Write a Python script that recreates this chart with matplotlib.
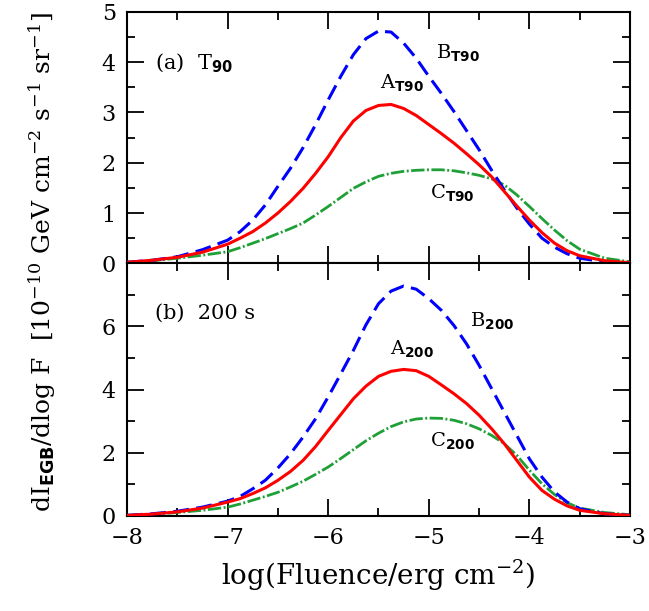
import numpy as np
import matplotlib
matplotlib.use('Agg')
import matplotlib.pyplot as plt
from matplotlib.ticker import MultipleLocator

plt.rcParams['font.family'] = ['DejaVu Serif']
plt.rcParams['mathtext.fontset'] = 'custom'
plt.rcParams['mathtext.rm'] = 'DejaVu Serif'
plt.rcParams['mathtext.it'] = 'DejaVu Serif:italic'
plt.rcParams['mathtext.bf'] = 'DejaVu Sans:bold'

# log fluence grid
logF = [-8.0, -7.75, -7.5, -7.25, -7.0, -6.875, -6.75, -6.625, -6.5, -6.375,
        -6.25, -6.125, -6.0, -5.875, -5.75, -5.625, -5.5, -5.375, -5.25, -5.125,
        -5.0, -4.875, -4.75, -4.625, -4.5, -4.375, -4.25, -4.125, -4.0, -3.875,
        -3.75, -3.625, -3.5, -3.25, -3.0]

# (a) T90
A_T90 = [0.02, 0.06, 0.12, 0.22, 0.38, 0.50, 0.63, 0.80, 1.00, 1.23,
         1.49, 1.79, 2.12, 2.50, 2.83, 3.04, 3.14, 3.16, 3.08, 2.94,
         2.76, 2.58, 2.39, 2.18, 1.96, 1.72, 1.43, 1.14, 0.86, 0.61,
         0.40, 0.25, 0.15, 0.05, 0.01]
B_T90 = [0.02, 0.06, 0.13, 0.27, 0.46, 0.63, 0.86, 1.16, 1.53, 1.89,
         2.30, 2.76, 3.25, 3.72, 4.15, 4.47, 4.62, 4.60, 4.38, 4.08,
         3.72, 3.38, 3.02, 2.64, 2.26, 1.85, 1.46, 1.10, 0.78, 0.50,
         0.32, 0.19, 0.10, 0.03, 0.0]
C_T90 = [0.02, 0.05, 0.10, 0.16, 0.23, 0.31, 0.40, 0.49, 0.59, 0.69,
         0.80, 0.96, 1.13, 1.31, 1.49, 1.62, 1.73, 1.79, 1.83, 1.85,
         1.86, 1.86, 1.84, 1.80, 1.75, 1.68, 1.56, 1.36, 1.13, 0.89,
         0.66, 0.45, 0.28, 0.10, 0.03]

# (b) 200 s
A_200 = [0.02, 0.06, 0.13, 0.25, 0.44, 0.55, 0.71, 0.89, 1.13, 1.41,
         1.76, 2.20, 2.71, 3.21, 3.71, 4.11, 4.42, 4.58, 4.64, 4.60,
         4.42, 4.15, 3.87, 3.56, 3.19, 2.76, 2.29, 1.76, 1.23, 0.81,
         0.53, 0.32, 0.18, 0.07, 0.02]
B_200 = [0.02, 0.07, 0.15, 0.28, 0.47, 0.62, 0.86, 1.13, 1.52, 1.97,
         2.50, 3.08, 3.77, 4.50, 5.24, 6.05, 6.72, 7.12, 7.28, 7.18,
         6.88, 6.51, 6.03, 5.45, 4.77, 4.03, 3.29, 2.55, 1.81, 1.23,
         0.76, 0.44, 0.23, 0.07, 0.02]
C_200 = [0.02, 0.05, 0.11, 0.18, 0.28, 0.38, 0.50, 0.62, 0.75, 0.92,
         1.10, 1.32, 1.55, 1.82, 2.10, 2.38, 2.62, 2.83, 2.98, 3.07,
         3.10, 3.09, 3.03, 2.92, 2.76, 2.55, 2.29, 1.92, 1.45, 1.02,
         0.68, 0.42, 0.25, 0.11, 0.04]

red = '#ff0000'
blue = '#0000ff'
green = '#1fa037'

fig = plt.figure(figsize=(6.49, 6.11), dpi=100)
ax1 = fig.add_axes([0.1957, 0.5691, 0.775, 0.4113])
ax2 = fig.add_axes([0.1957, 0.1555, 0.775, 0.4136])

def draw(ax, a, b, c):
    ax.plot(logF, c, color=green, lw=2.0, ls=(0, (4.8, 0.9, 0.7, 0.9)), zorder=2)
    ax.plot(logF, b, color=blue, lw=2.2, ls=(0, (5.2, 2.4)), zorder=3)
    ax.plot(logF, a, color=red, lw=2.2, zorder=4)
    ax.set_xlim(-8, -3)
    ax.xaxis.set_major_locator(MultipleLocator(1))
    ax.xaxis.set_minor_locator(MultipleLocator(0.5))
    ax.tick_params(which='both', direction='in', top=True, right=True,
                   width=1.3, labelsize=16, pad=8)
    ax.tick_params(which='major', length=12)
    ax.tick_params(which='minor', length=6)
    for s in ax.spines.values():
        s.set_linewidth(1.5)

draw(ax1, A_T90, B_T90, C_T90)
ax1.set_ylim(0, 5)
ax1.yaxis.set_major_locator(MultipleLocator(1))
ax1.yaxis.set_minor_locator(MultipleLocator(0.5))
ax1.tick_params(labelbottom=False)

draw(ax2, A_200, B_200, C_200)
ax2.set_ylim(0, 8)
ax2.set_yticks([0, 2, 4, 6])
ax2.yaxis.set_minor_locator(MultipleLocator(1))

ax1.text(-7.72, 4.0, r'(a)  T$_{\mathbf{90}}$', fontsize=15, va='center')
ax1.text(-4.93, 4.2, r'B$_{\mathbf{T90}}$', fontsize=14, va='center')
ax1.text(-5.49, 3.6, r'A$_{\mathbf{T90}}$', fontsize=14, va='center')
ax1.text(-4.99, 1.4, r'C$_{\mathbf{T90}}$', fontsize=14, va='center')

ax2.text(-7.72, 6.42, '(b)  200 s', fontsize=15, va='center')
ax2.text(-4.59, 6.2, r'B$_{\mathbf{200}}$', fontsize=14, va='center')
ax2.text(-5.39, 5.3, r'A$_{\mathbf{200}}$', fontsize=14, va='center')
ax2.text(-4.99, 2.4, r'C$_{\mathbf{200}}$', fontsize=14, va='center')

fig.text(0.065, 0.571,
         r'dI$_{\mathbf{EGB}}$/dlog F  [10$^{-10}$ GeV cm$^{-2}$ s$^{-1}$ sr$^{-1}$]',
         rotation=90, ha='center', va='center', fontsize=18)
fig.text(0.583, 0.059, r'log(Fluence/erg cm$^{-2}$)', ha='center',
         va='center', fontsize=20)

fig.savefig('out.png', dpi=100)
